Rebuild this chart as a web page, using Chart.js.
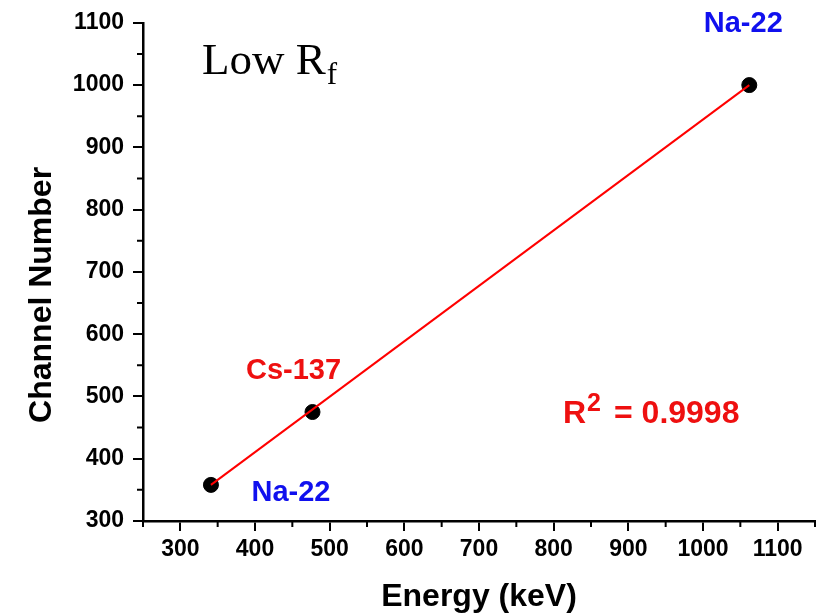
<!DOCTYPE html>
<html lang="en">

<head>
    <meta charset="UTF-8">
    <title>Low Rf calibration</title>
    <script src="https://cdn.jsdelivr.net/npm/chart.js"></script>
    <style>
        body { margin: 0; background: #fff; }
    </style>
</head>

<body>
    <canvas id="calib" width="831" height="614"></canvas>

    <script>
        // measured peaks (Compton edges)
        const energy = [341, 477, 1062];
        const channel = [358, 475, 1000];
        const peakNames = ['Na-22', 'Cs-137', 'Na-22'];
        const peakColors = ['#1010ee', '#ee1010', '#1010ee'];

        // linear fit line end points
        const fitEnergy = [341, 1062];
        const fitChannel = [358, 1000];

        const xTicks = [300, 400, 500, 600, 700, 800, 900, 1000, 1100];
        const xMinor = [250, 350, 450, 550, 650, 750, 850, 950, 1050, 1150];
        const yMinor = [350, 450, 550, 650, 750, 850, 950, 1050];

        const sans = "'Liberation Sans', Arial, sans-serif";

        // minor ticks, axis titles and annotations
        const decorations = {
            id: 'decorations',
            afterDraw(chart) {
                const ctx = chart.ctx;
                const xs = chart.scales.x, ys = chart.scales.y;
                const area = chart.chartArea;
                ctx.save();
                ctx.strokeStyle = '#000';
                ctx.lineWidth = 2;
                ctx.beginPath();
                xMinor.forEach(v => {
                    const px = xs.getPixelForValue(v);
                    ctx.moveTo(px, area.bottom);
                    ctx.lineTo(px, area.bottom + 6);
                });
                yMinor.forEach(v => {
                    const py = ys.getPixelForValue(v);
                    ctx.moveTo(area.left, py);
                    ctx.lineTo(area.left - 6, py);
                });
                ctx.stroke();

                // axis titles
                ctx.fillStyle = '#000';
                ctx.font = 'bold 32px ' + sans;
                ctx.textAlign = 'center';
                ctx.textBaseline = 'alphabetic';
                ctx.fillText('Energy (keV)', (area.left + area.right) / 2, 606);
                ctx.save();
                ctx.translate(51, (area.top + area.bottom) / 2 + 23);
                ctx.rotate(-Math.PI / 2);
                ctx.fillText('Channel Number', 0, 0);
                ctx.restore();

                // peak labels
                const offsets = [[80, 8], [-19, -41], [-6, -61]];
                ctx.font = 'bold 29px ' + sans;
                ctx.textBaseline = 'middle';
                energy.forEach((e, i) => {
                    const px = xs.getPixelForValue(e);
                    const py = ys.getPixelForValue(channel[i]);
                    ctx.fillStyle = peakColors[i];
                    ctx.fillText(peakNames[i], px + offsets[i][0], py + offsets[i][1]);
                });

                // R^2
                ctx.fillStyle = '#ee1010';
                ctx.textAlign = 'left';
                ctx.textBaseline = 'alphabetic';
                ctx.font = 'bold 32px ' + sans;
                ctx.fillText('R', 563, 423);
                let w = ctx.measureText('R').width;
                ctx.font = 'bold 25px ' + sans;
                ctx.fillText('2', 563 + w + 1, 411);
                ctx.font = 'bold 32px ' + sans;
                ctx.fillText('= 0.9998', 614, 423);

                // Low Rf
                ctx.fillStyle = '#000';
                ctx.font = "45px 'Liberation Serif', 'Times New Roman', serif";
                ctx.fillText('Low R', 202, 74);
                w = ctx.measureText('Low R').width;
                ctx.font = "31px 'Liberation Serif', 'Times New Roman', serif";
                ctx.fillText('f', 202 + w + 1, 84);
                ctx.restore();
            }
        };

        const tickFont = { family: sans, size: 23, weight: 'bold' };

        new Chart(document.getElementById('calib'), {
            type: 'scatter',
            data: {
                datasets: [{
                    label: 'fit',
                    data: fitEnergy.map((e, i) => ({ x: e, y: fitChannel[i] })),
                    showLine: true,
                    borderColor: '#ff0000',
                    borderWidth: 2,
                    pointRadius: 0
                }, {
                    label: 'peaks',
                    data: energy.map((e, i) => ({ x: e, y: channel[i] })),
                    backgroundColor: '#000',
                    borderColor: '#000',
                    pointRadius: 7.5
                }]
            },
            options: {
                responsive: false,
                animation: false,
                layout: { padding: { top: 22, right: 16, left: 0, bottom: 0 } },
                plugins: { legend: { display: false }, tooltip: { enabled: false } },
                scales: {
                    x: {
                        type: 'linear',
                        min: 250,
                        max: 1150,
                        afterBuildTicks: s => { s.ticks = xTicks.map(v => ({ value: v })); },
                        afterFit: s => { s.height = 93; },
                        border: { display: true, color: '#000', width: 2.5 },
                        grid: { drawOnChartArea: false, drawTicks: true, tickLength: 10, tickColor: '#000', lineWidth: 2 },
                        ticks: { color: '#000', padding: 5, font: tickFont, callback: v => String(v) }
                    },
                    y: {
                        min: 300,
                        max: 1100,
                        ticks: { stepSize: 100, color: '#000', padding: 9, font: tickFont, callback: v => String(v) },
                        afterFit: s => { s.width = 143; },
                        border: { display: true, color: '#000', width: 2.5 },
                        grid: { drawOnChartArea: false, drawTicks: true, tickLength: 10, tickColor: '#000', lineWidth: 2 }
                    }
                }
            },
            plugins: [decorations]
        });
    </script>
</body>

</html>
